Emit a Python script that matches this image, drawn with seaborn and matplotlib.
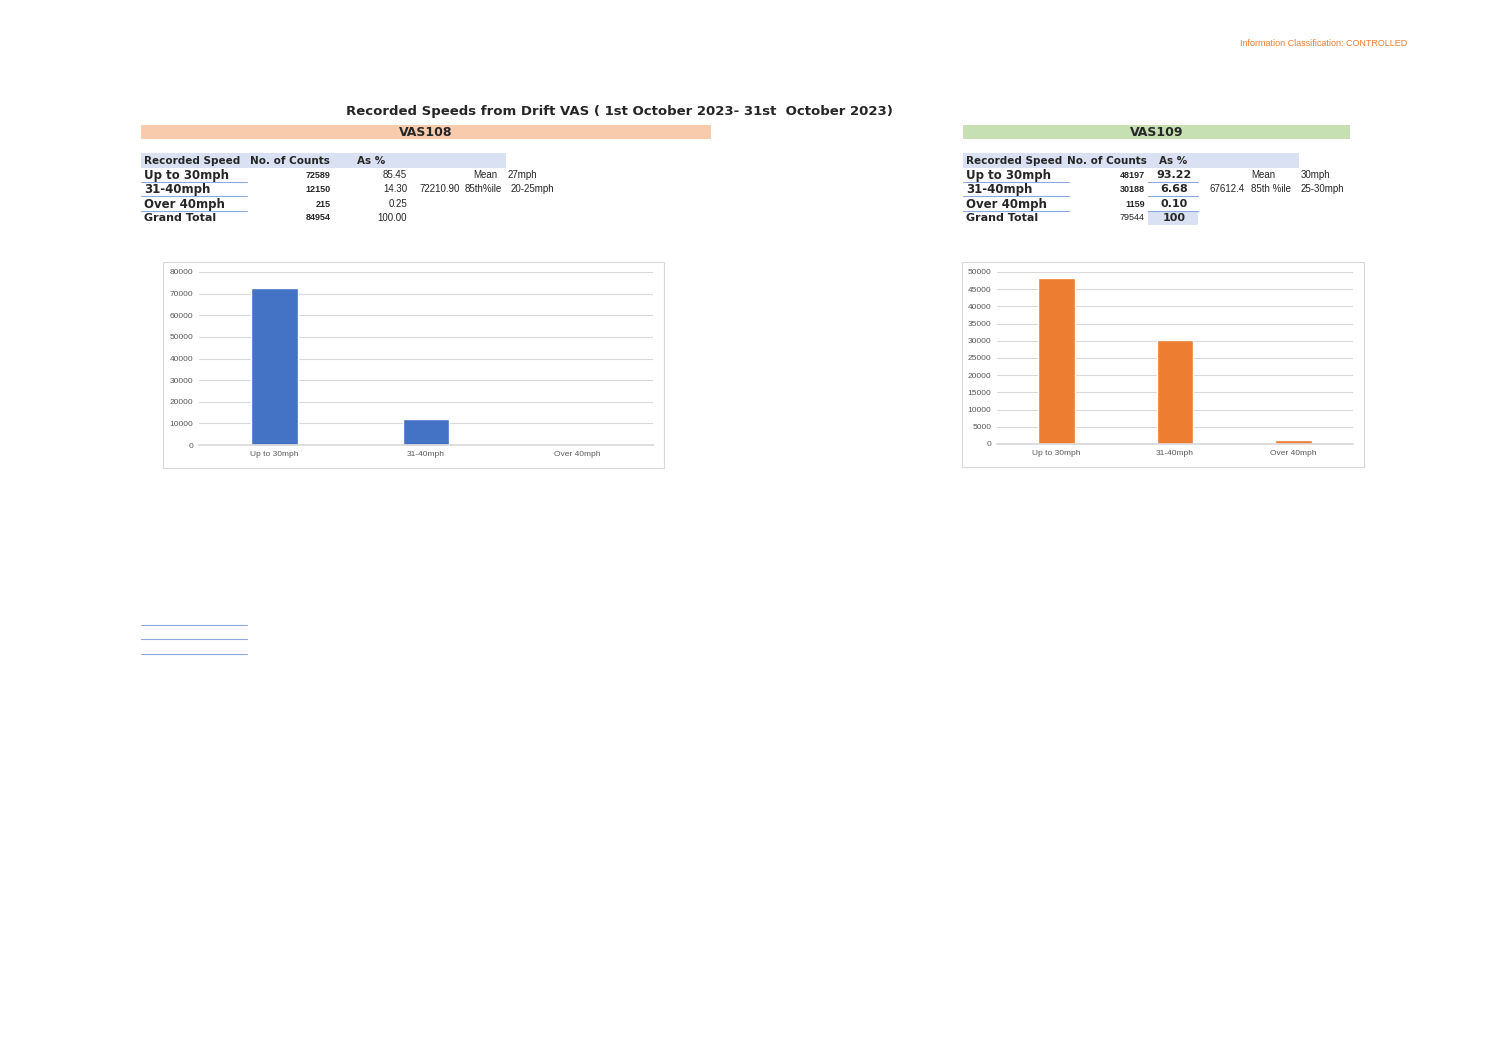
import matplotlib
matplotlib.use("Agg")
import matplotlib.pyplot as plt
import seaborn as sns
import pandas as pd
from matplotlib.patches import Rectangle
from matplotlib.lines import Line2D

categories = ["Up to 30mph", "31-40mph", "Over 40mph"]
vas108_counts = [72589, 12150, 215]
vas108_pct = ["85.45", "14.30", "0.25"]
vas108_total = "84954"
vas108_total_pct = "100.00"
vas109_counts = [48197, 30188, 1159]
vas109_pct = ["93.22", "6.68", "0.10"]
vas109_total = "79544"
vas109_total_pct = "100"

sns.set_theme(style="white")
plt.rcParams['font.family'] = ['DejaVu Sans']
W, H = 1497, 1058
fig = plt.figure(figsize=(W/100, H/100), dpi=100)

def fx(x): return x / W
def fy(y): return 1 - y / H
def txt(x, y, s, **kw):
    kw.setdefault("va", "center")
    fig.text(fx(x), fy(y), s, **kw)
def rect(x0, y0, x1, y1, fc, ec="none", lw=0):
    fig.patches.append(Rectangle((fx(x0), fy(y1)), fx(x1)-fx(x0), fy(y0)-fy(y1),
                                 transform=fig.transFigure, fc=fc, ec=ec, lw=lw, zorder=0))
def hline(x0, x1, y, c="#8ea9db", lw=0.8):
    fig.add_artist(Line2D([fx(x0), fx(x1)], [fy(y), fy(y)], transform=fig.transFigure, color=c, lw=lw))

cal = "Liberation Sans"
txt(1407, 44, "Information Classification: CONTROLLED", ha="right", fontsize=6.5, color="#ed7d31", family=cal)
txt(619, 111, "Recorded Speeds from Drift VAS ( 1st October 2023- 31st  October 2023)", ha="center",
    fontsize=9.5, fontweight="bold")

def table(x0, hdr_x1, band, bandcol, title, counts, pct, total, tpct, cols, extra, boldpct):
    bx0, bx1 = band
    rect(bx0, 125, bx1, 139, bandcol)
    txt((bx0+bx1)/2, 132, title, ha="center", fontsize=9, fontweight="bold")
    rect(x0, 153, hdr_x1, 168, "#d9e1f2")
    cx_cnt, cx_pct = cols
    txt(x0+3, 161, "Recorded Speed", fontsize=7.5, fontweight="bold")
    txt(x0+109 if boldpct is False else x0+104, 161, "No. of Counts", fontsize=7.5, fontweight="bold")
    txt(cx_pct-50 if not boldpct else cx_pct-15, 161, "As %", fontsize=7.5, fontweight="bold")
    ys = [175, 189, 204]
    for i, c in enumerate(categories):
        txt(x0+3, ys[i], c, fontsize=8.5, fontweight="bold")
        hline(x0, x0+106, ys[i]+7)
        txt(cx_cnt, ys[i], str(counts[i]), ha="right", fontsize=6.5, fontweight="bold", family=cal)
        if boldpct:
            txt(cx_pct, ys[i], pct[i], ha="center", fontsize=8, fontweight="bold")
            hline(cx_pct-26, cx_pct+24, ys[i]+7)
        else:
            txt(cx_pct, ys[i], pct[i], ha="right", fontsize=7, family=cal)
    txt(x0+3, 218, "Grand Total", fontsize=8, fontweight="bold")
    if boldpct:
        rect(cx_pct-26, 211, cx_pct+24, 225, "#d9e1f2")
        txt(cx_cnt, 218, total, ha="right", fontsize=6.5, family=cal)
        txt(cx_pct, 218, tpct, ha="center", fontsize=8, fontweight="bold")
    else:
        txt(cx_cnt, 218, total, ha="right", fontsize=6.5, fontweight="bold", family=cal)
        txt(cx_pct, 218, tpct, ha="right", fontsize=7, family=cal)
    for (x, y, s, ha) in extra:
        txt(x, y, s, ha=ha, fontsize=7, family=cal)

table(141, 506, (141, 711), "#f8cbad", "VAS108", vas108_counts, vas108_pct, vas108_total,
      vas108_total_pct, (331, 407),
      [(497, 175, "Mean", "right"), (508, 175, "27mph", "left"),
       (419, 189, "72210.90", "left"), (465, 189, "85th%ile", "left"), (511, 189, "20-25mph", "left")],
      False)
table(963, 1299, (963, 1350), "#c6e0b4", "VAS109", vas109_counts, vas109_pct, vas109_total,
      vas109_total_pct, (1145, 1174),
      [(1263, 175, "Mean", "center"), (1301, 175, "30mph", "left"),
       (1210, 189, "67612.4", "left"), (1251, 189, "85th %ile", "left"), (1301, 189, "25-30mph", "left")],
      True)

for y in (625, 639, 654):
    hline(141, 247, y)

def chart(box, area, counts, color, ymax, step):
    bx0, by0, bx1, by1 = box
    rect(bx0, by0, bx1, by1, "none", ec="#d9d9d9", lw=0.8)
    ax0, ay0, ax1, ay1 = area
    ax = fig.add_axes([fx(ax0), fy(ay1), fx(ax1)-fx(ax0), fy(ay0)-fy(ay1)])
    df = pd.DataFrame({"cat": categories, "val": counts})
    sns.barplot(data=df, x="cat", y="val", color=color, saturation=1, width=0.31, ax=ax)
    ax.set_ylim(0, ymax)
    ax.set_yticks(range(0, ymax+1, step))
    ax.yaxis.grid(True, color="#d9d9d9", lw=0.8)
    ax.set_axisbelow(True)
    for s in ax.spines.values():
        s.set_visible(False)
    ax.spines["bottom"].set_visible(True)
    ax.spines["bottom"].set_color("#d9d9d9")
    ax.set_xlabel(""); ax.set_ylabel("")
    ax.tick_params(axis="both", length=0, labelsize=6, labelcolor="#595959", pad=4)
    for lab in ax.get_xticklabels() + ax.get_yticklabels():
        lab.set_family(cal)
    ax.set_facecolor("none")

chart((163, 262, 664, 468), (199, 272, 653, 445), vas108_counts, "#4472c4", 80000, 10000)
chart((962, 262, 1364, 467), (997, 272, 1353, 444), vas109_counts, "#ed7d31", 50000, 5000)

fig.savefig("out.png", dpi=100)
